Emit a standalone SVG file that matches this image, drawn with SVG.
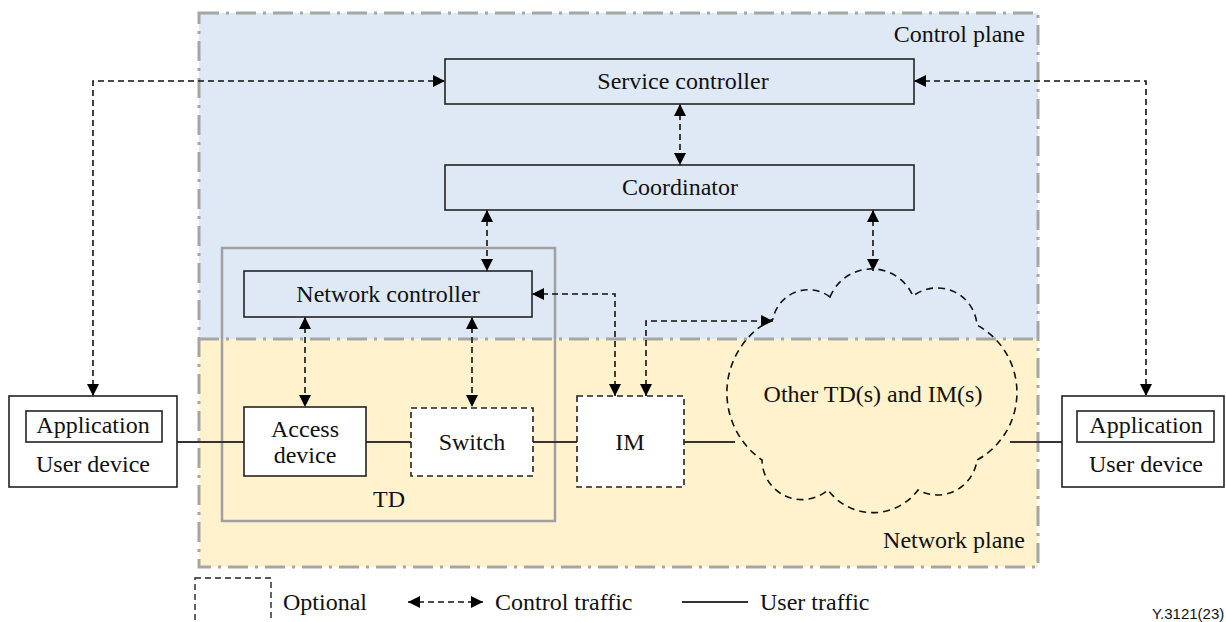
<svg xmlns="http://www.w3.org/2000/svg" width="1226" height="622" viewBox="0 0 1226 622">
<style>
text{font-family:"Liberation Serif","Times New Roman",serif;font-size:24px;fill:#111;}
.c{text-anchor:middle;}
.r{text-anchor:end;}
.box{fill:none;stroke:#222;stroke-width:1.6;}
.wbox{fill:#fff;stroke:#222;stroke-width:1.6;}
.obox{fill:#fff;stroke:#222;stroke-width:1.6;stroke-dasharray:6,4;}
.plane{fill:none;stroke:#a6a6a6;stroke-width:3;stroke-dasharray:20,7,3,7;}
.ctl{fill:none;stroke:#111;stroke-width:1.6;stroke-dasharray:6,4;marker-start:url(#ah);marker-end:url(#ah);}
.usr{fill:none;stroke:#333;stroke-width:2;}
</style>
<defs>
<marker id="ah" viewBox="0 0 12 12" refX="12" refY="6" markerWidth="12" markerHeight="12" markerUnits="userSpaceOnUse" orient="auto-start-reverse">
<path d="M0,0 L12,6 L0,12 Z" fill="#000"/>
</marker>
</defs>

<g id="planes">
<rect x="199" y="13" width="839" height="326" fill="#dee9f5"/>
<rect x="199" y="339" width="839" height="228" fill="#fff2cc"/>
<rect class="plane" x="199" y="13" width="839" height="554"/>
<line class="plane" x1="199" y1="339" x2="1038" y2="339"/>
<text class="r" x="1025" y="42">Control plane</text>
<text class="r" x="1025" y="548">Network plane</text>
</g>

<g id="td">
<rect x="222" y="248" width="333" height="273" fill="none" stroke="#a0a0a0" stroke-width="2.5"/>
<text x="373" y="507">TD</text>
</g>

<g id="connectors">
<path class="usr" d="M177 442 H244 M366 442 H411 M533 442 H577 M684 442 H735 M1010 442 H1062"/>
<path class="ctl" d="M93 396 V81 H445"/>
<path class="ctl" d="M914 81 H1146 V396"/>
<path class="ctl" d="M680 104 V165"/>
<path class="ctl" d="M487 210 V271"/>
<path class="ctl" d="M873 210 V271"/>
<path class="ctl" d="M305 317 V407"/>
<path class="ctl" d="M472 317 V407"/>
<path class="ctl" d="M532 294 H615 V396"/>
<path class="ctl" d="M646 396 V321 H773"/>
</g>

<g id="service-controller">
<rect class="box" x="445" y="59" width="469" height="45"/>
<text class="c" x="683" y="89">Service controller</text>
</g>

<g id="coordinator">
<rect class="box" x="445" y="165" width="469" height="45"/>
<text class="c" x="680" y="195">Coordinator</text>
</g>

<g id="network-controller">
<rect class="box" x="244" y="271" width="288" height="46"/>
<text class="c" x="388" y="302">Network controller</text>
</g>

<g id="access-device">
<rect class="wbox" x="244" y="407" width="122" height="69"/>
<text class="c" x="305" y="437">Access</text>
<text class="c" x="305" y="463">device</text>
</g>

<g id="switch">
<rect class="obox" x="411" y="408" width="122" height="68"/>
<text class="c" x="472" y="450">Switch</text>
</g>

<g id="im">
<rect class="obox" x="577" y="396" width="107" height="91"/>
<text class="c" x="630" y="450">IM</text>
</g>

<g id="cloud">
<path d="M830 297 A45 45 0 0 1 913 296 A40 40 0 0 1 977 325 A77 77 0 0 1 977 460 A40 40 0 0 1 918 490 A56 56 0 0 1 828 490 A40 40 0 0 1 762 460 A82 82 0 0 1 773 319 A36 36 0 0 1 830 297 Z" fill="none" stroke="#111" stroke-width="1.6" stroke-dasharray="7,5"/>
<text class="c" x="873" y="402">Other TD(s) and IM(s)</text>
</g>

<g id="user-device-left">
<rect class="wbox" x="9" y="396" width="168" height="91"/>
<rect class="box" x="26" y="411" width="136" height="31"/>
<text class="c" x="93" y="433">Application</text>
<text class="c" x="93" y="472">User device</text>
</g>

<g id="user-device-right">
<rect class="wbox" x="1062" y="396" width="162" height="91"/>
<rect class="box" x="1077" y="411" width="137" height="31"/>
<text class="c" x="1146" y="433">Application</text>
<text class="c" x="1146" y="472">User device</text>
</g>

<g id="legend">
<rect x="195" y="578" width="76" height="60" fill="none" stroke="#222" stroke-width="1.4" stroke-dasharray="6,4"/>
<text x="283" y="610">Optional</text>
<path class="ctl" d="M408 602 H483"/>
<text x="495" y="610">Control traffic</text>
<line class="usr" x1="682" y1="602" x2="748" y2="602"/>
<text x="760" y="610">User traffic</text>
<text x="1152" y="619" style="font-family:'Liberation Sans',Arial,sans-serif;font-size:15px;">Y.3121(23)</text>
</g>
</svg>
